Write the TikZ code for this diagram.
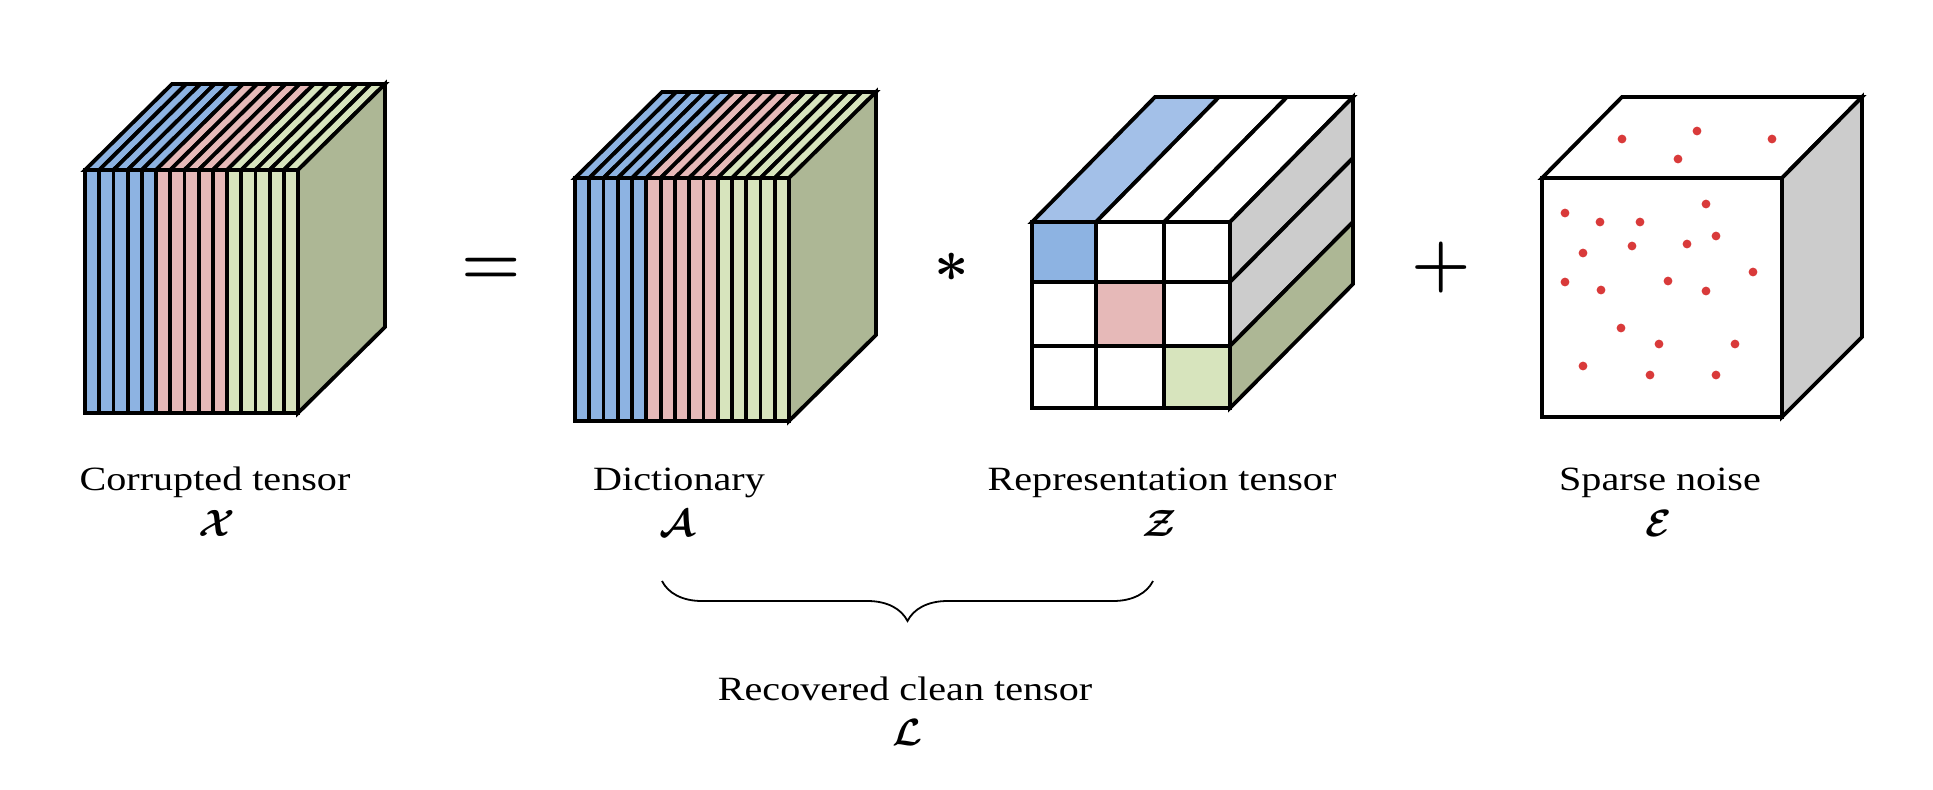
\RequirePackage{fix-cm}
\documentclass[tikz,border=0pt]{standalone}
\usepackage{amsmath,amssymb}
\usepackage{fontspec}
\setmainfont{Liberation Serif}[FakeStretch=1.18]
\usetikzlibrary{decorations.pathreplacing}
\definecolor{cblue}{HTML}{8DB3E2}
\definecolor{ctblue}{HTML}{A3C0E8}
\definecolor{cpink}{HTML}{E6B9B8}
\definecolor{cgreen}{HTML}{D7E4BD}
\definecolor{colive}{HTML}{ADB795}
\definecolor{cgrey}{HTML}{CCCCCC}
\definecolor{cdot}{HTML}{D93A3A}
\newcommand\stripecube[6]{%
  \foreach \i in {0,...,14} {
    \pgfmathsetmacro{\xl}{#1+\i*#3/15}
    \pgfmathsetmacro{\xr}{#1+(\i+1)*#3/15}
    \ifnum\i<5 \def\scol{cblue}\else\ifnum\i<10 \def\scol{cpink}\else\def\scol{cgreen}\fi\fi
    \filldraw[edge, fill=\scol] (\xl,#2) -- (\xl+#5,#2+#6) -- (\xr+#5,#2+#6) -- (\xr,#2) -- cycle;
    \filldraw[edge, fill=\scol] (\xl,#2) rectangle (\xr,#2+#4);
  }
  \filldraw[edge, fill=colive] (#1+#3,#2) -- (#1+#3+#5,#2+#6) -- (#1+#3+#5,#2+#4+#6) -- (#1+#3,#2+#4) -- cycle;
}
\begin{document}
\begin{tikzpicture}[x=0.5pt,y=-0.5pt,
  edge/.style={line width=1.9pt, draw=black},
  inner/.style={line width=2.4pt, draw=black},
  lbl/.style={anchor=base, inner sep=0pt, font=\fontsize{17}{20}\selectfont},
  sym/.style={anchor=base, inner sep=0pt, font=\fontsize{19}{22}\selectfont},
  op/.style={anchor=base, inner sep=0pt, font=\fontsize{34}{40}\selectfont},
  dot/.style={fill=cdot}]
\useasboundingbox (0,0) rectangle (1933,789);

% Corrupted tensor
\stripecube{85}{170}{213}{243}{87}{-86}
% Dictionary
\stripecube{575}{178}{214}{243}{87}{-86}

% Representation tensor
\filldraw[edge, fill=ctblue] (1032,222) -- (1155,97) -- (1219,97) -- (1096,222) -- cycle;
\filldraw[edge, fill=white] (1096,222) -- (1219,97) -- (1287,97) -- (1164,222) -- cycle;
\filldraw[edge, fill=white] (1164,222) -- (1287,97) -- (1353,97) -- (1230,222) -- cycle;
\filldraw[edge, fill=cgrey] (1230,222) -- (1353,97) -- (1353,158) -- (1230,282) -- cycle;
\filldraw[edge, fill=cgrey] (1230,282) -- (1353,158) -- (1353,222) -- (1230,346) -- cycle;
\filldraw[edge, fill=colive] (1230,346) -- (1353,222) -- (1353,284) -- (1230,408) -- cycle;
\fill[cblue] (1032,222) rectangle (1096,282);
\fill[cpink] (1096,282) rectangle (1164,346);
\fill[cgreen] (1164,346) rectangle (1230,408);
\draw[inner] (1096,222) -- (1096,408) (1164,222) -- (1164,408)
  (1032,282) -- (1230,282) (1032,346) -- (1230,346);
\draw[edge] (1032,222) rectangle (1230,408);

% Sparse noise
\filldraw[edge, fill=white] (1542,178) -- (1622,97) -- (1862,97) -- (1782,178) -- cycle;
\filldraw[edge, fill=cgrey] (1782,178) -- (1862,97) -- (1862,337) -- (1782,417) -- cycle;
\filldraw[edge, fill=white] (1542,178) rectangle (1782,417);
\foreach \p in {(1622,139),(1697,131),(1772,139),(1678,159),
  (1565,213),(1600,222),(1640,222),(1706,204),(1583,253),(1632,246),
  (1687,244),(1716,236),(1753,272),(1565,282),(1601,290),(1668,281),
  (1706,291),(1621,328),(1659,344),(1735,344),(1583,366),(1650,375),(1716,375)}
  \fill[dot] \p circle[radius=2.2pt];

% operators
\node[op] (eq) at (491,284) {$\boldsymbol{=}$};
\node[op, font=\fontsize{30}{36}\selectfont] (ast) at (952,281) {$\boldsymbol{\ast}$};
\node[op] (plus) at (1441,284) {$\boldsymbol{+}$};

% labels
\node[lbl] (lX) at (215,490) {Corrupted tensor};
\node[sym] (sX) at (217,536) {$\boldsymbol{\mathcal{X}}$};
\node[lbl] (lA) at (679,490) {Dictionary};
\node[sym] (sA) at (677,536) {$\boldsymbol{\mathcal{A}}$};
\node[lbl] (lZ) at (1162,490) {Representation tensor};
\node[sym] (sZ) at (1160,536) {$\boldsymbol{\mathcal{Z}}$};
\node[lbl] (lE) at (1660,490) {Sparse noise};
\node[sym] (sE) at (1659,536) {$\boldsymbol{\mathcal{E}}$};

% brace
\coordinate (bl) at (662,581);
\coordinate (br) at (1153,581);
\draw[line width=0.9pt, decorate, decoration={brace, mirror, amplitude=20pt}] (bl) -- (br);
\node[lbl] (lL) at (905,700) {Recovered clean tensor};
\node[sym] (sL) at (907,745) {$\boldsymbol{\mathcal{L}}$};
\end{tikzpicture}
\end{document}
